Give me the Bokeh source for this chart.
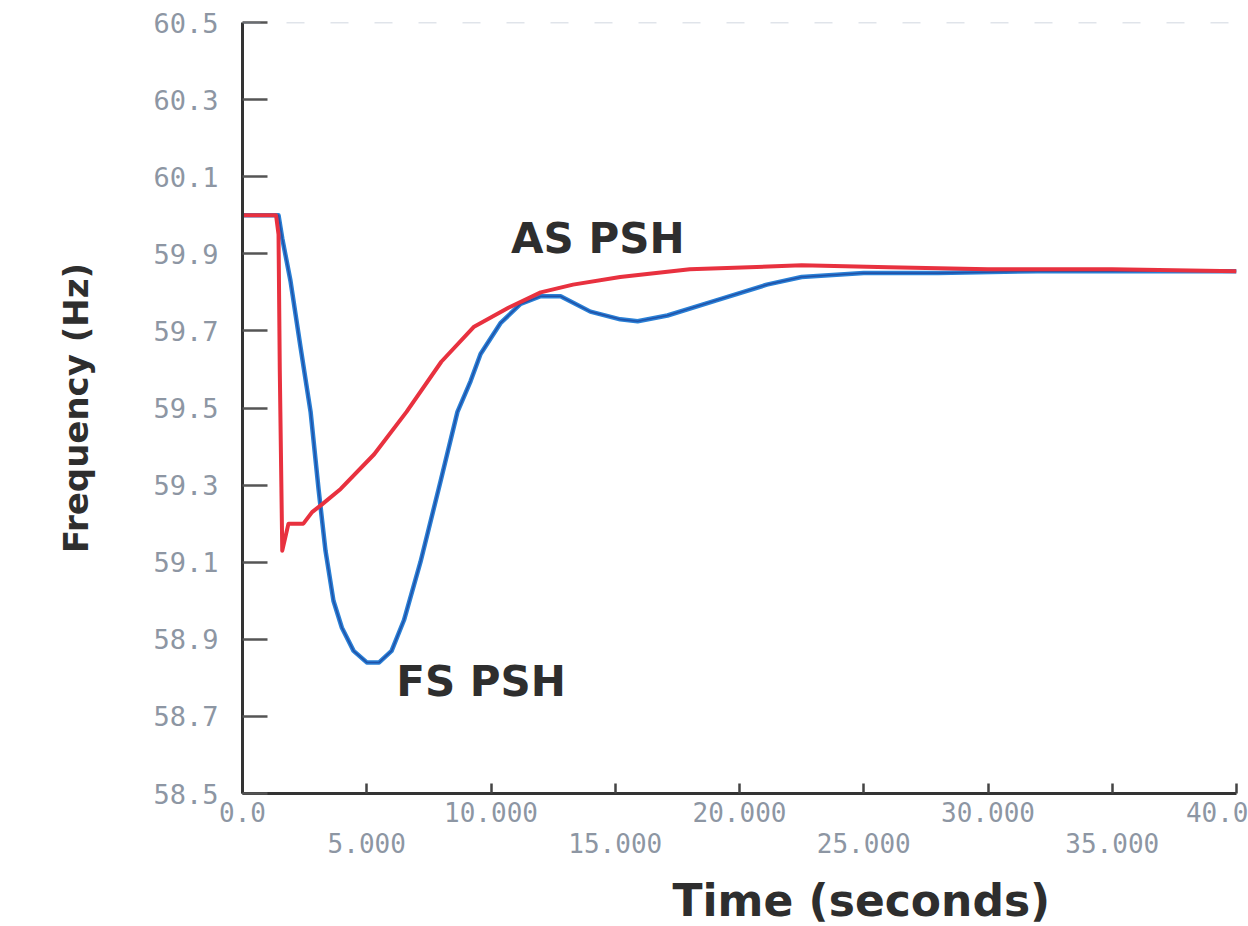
from bokeh.plotting import figure
from bokeh.models import (Range1d, FixedTicker, LinearAxis, PrintfTickFormatter,
                          Label, Span, Title)
from bokeh.embed import file_html
from bokeh.resources import INLINE

# ---- data ----
red_t = [0.0, 1.35, 1.45, 1.5, 1.6, 1.85, 2.45, 2.8, 3.2, 3.95, 5.3, 6.6, 8.0,
         9.3, 10.7, 12.0, 13.3, 15.2, 18.0, 22.5, 26.0, 30.0, 35.0, 40.0]
red_f = [60.0, 60.0, 59.95, 59.6, 59.13, 59.20, 59.20, 59.23, 59.25, 59.29, 59.38,
         59.49, 59.62, 59.71, 59.76, 59.80, 59.82, 59.84, 59.86, 59.87, 59.865,
         59.86, 59.86, 59.855]

blue_t = [0.0, 1.45, 1.6, 1.93, 2.33, 2.74, 3.06, 3.34, 3.66, 4.0, 4.47, 5.0, 5.5,
          6.0, 6.5, 7.16, 7.97, 8.65, 9.18, 9.58, 10.38, 11.19, 12.0, 12.8, 14.0,
          15.2, 15.9, 17.1, 19.1, 21.1, 22.5, 25.0, 28.0, 32.0, 36.0, 40.0]
blue_f = [60.0, 60.0, 59.94, 59.83, 59.66, 59.49, 59.29, 59.13, 59.0, 58.93, 58.87,
          58.84, 58.84, 58.87, 58.95, 59.10, 59.31, 59.49, 59.57, 59.64, 59.72,
          59.77, 59.79, 59.79, 59.75, 59.73, 59.725, 59.74, 59.78, 59.82, 59.84,
          59.85, 59.85, 59.855, 59.855, 59.855]

y_ticks = [58.5, 58.7, 58.9, 59.1, 59.3, 59.5, 59.7, 59.9, 60.1, 60.3, 60.5]
x_ticks_row1 = [0, 10, 20, 30, 40]
x_labels_row1 = ["0.0", "10.000", "20.000", "30.000", "40.0"]
x_ticks_row2 = [5, 15, 25, 35]

curve_labels = ["AS PSH", "FS PSH"]
curve_label_t = [14.3, 9.6]
curve_label_f = [59.94, 58.79]

x_title = "Time (seconds)"
y_title = "Frequency (Hz)"

TICK_COLOR = "#8d96a3"
INK = "#2e2e2e"

p = figure(frame_width=994, frame_height=771,
           min_border_left=242, min_border_right=12,
           min_border_top=22, min_border_bottom=118,
           x_range=Range1d(0, 40), y_range=Range1d(58.5, 60.5),
           output_backend="svg", toolbar_location=None,
           background_fill_color="white", border_fill_color="white")
p.outline_line_color = None
p.xgrid.visible = False
p.ygrid.visible = False

# faint dashed line at the top
p.add_layout(Span(location=60.5, dimension="width", line_color="#9aa6bd",
                  line_width=1.5, line_dash="18 26", line_alpha=0.6))

# curves
p.line(blue_t, blue_f, line_color="#2a80d6", line_width=4.5, line_join="round")
p.line(blue_t, blue_f, line_color="#1d3f96", line_width=1.6, line_alpha=0.7,
       line_join="round")
p.line(red_t, red_f, line_color="#e8313f", line_width=4, line_join="round")

# curve labels
for txt, t, f in zip(curve_labels, curve_label_t, curve_label_f):
    p.add_layout(Label(x=t, y=f, text=txt, text_font="DejaVu Sans",
                       text_font_style="bold", text_font_size="42px",
                       text_color=INK, text_align="center",
                       text_baseline="middle"))

# y axis
ya = p.yaxis[0]
ya.ticker = FixedTicker(ticks=y_ticks, minor_ticks=[])
ya.formatter = PrintfTickFormatter(format="%.1f")
ya.axis_line_color = "#333333"
ya.axis_line_width = 3
ya.major_tick_in = 25
ya.major_tick_out = 0
ya.major_tick_line_width = 2.5
ya.major_tick_line_color = "#555555"
ya.minor_tick_line_color = None
ya.major_label_standoff = 24
ya.major_label_text_font = "DejaVu Sans Mono"
ya.major_label_text_font_size = "27px"
ya.major_label_text_color = TICK_COLOR
ya.axis_label = y_title
ya.axis_label_text_font = "DejaVu Sans"
ya.axis_label_text_font_style = "bold"
ya.axis_label_text_font_size = "34px"
ya.axis_label_text_color = INK
ya.axis_label_standoff = 54

# x axis, first row of labels
xa = p.xaxis[0]
xa.ticker = FixedTicker(ticks=x_ticks_row1, minor_ticks=x_ticks_row2)
xa.major_label_overrides = {t: s for t, s in zip(x_ticks_row1, x_labels_row1)}
xa.axis_line_color = "#333333"
xa.axis_line_width = 3
xa.major_tick_in = 10
xa.major_tick_out = 0
xa.minor_tick_in = 10
xa.minor_tick_out = 0
xa.major_tick_line_width = 2.5
xa.minor_tick_line_width = 2.5
xa.major_tick_line_color = "#444444"
xa.minor_tick_line_color = "#444444"
xa.major_label_standoff = 8
xa.major_label_text_font = "DejaVu Sans Mono"
xa.major_label_text_font_size = "26px"
xa.major_label_text_color = TICK_COLOR

# x axis, second (staggered) row of labels
xb = LinearAxis(ticker=FixedTicker(ticks=x_ticks_row2, minor_ticks=[]),
                formatter=PrintfTickFormatter(format="%.3f"))
xb.axis_line_color = None
xb.major_tick_line_color = None
xb.minor_tick_line_color = None
xb.major_tick_in = 0
xb.major_tick_out = 0
xb.major_label_standoff = 8
xb.major_label_text_font = "DejaVu Sans Mono"
xb.major_label_text_font_size = "26px"
xb.major_label_text_color = TICK_COLOR
p.add_layout(xb, "below")

# x title, shifted right as in the original
p.add_layout(Title(text=x_title, align="left", offset=430, standoff=34,
                   text_font="DejaVu Sans", text_font_style="bold",
                   text_font_size="44px", text_color=INK), "below")

open("out.html", "w").write(file_html(p, INLINE))
